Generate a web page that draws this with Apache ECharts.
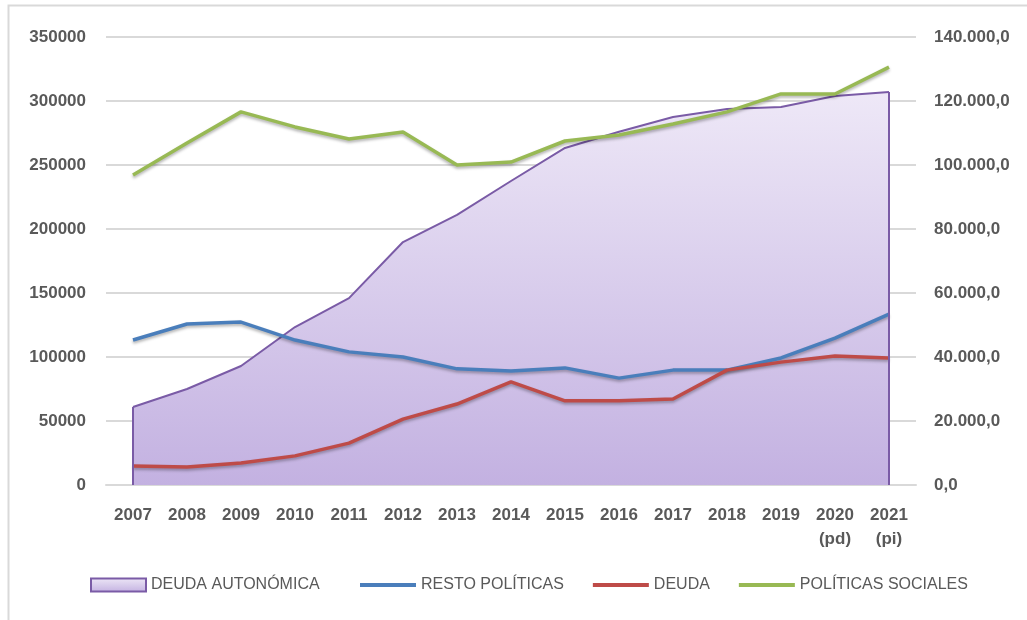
<!DOCTYPE html>
<html>
<head>
<meta charset="utf-8">
<script src="https://cdn.jsdelivr.net/npm/echarts@6/dist/echarts.min.js"></script>
<style>
html, body { margin: 0; padding: 0; background: #fff; }
#chart { width: 1027px; height: 620px; }
</style>
</head>
<body>
<div id="chart"></div>
<script>
// años (categorias del eje x)
var years = ['2007', '2008', '2009', '2010', '2011', '2012', '2013', '2014', '2015', '2016', '2017', '2018', '2019', '2020\n(pd)', '2021\n(pi)'];

// eje izquierdo
var deudaAutonomica = [60900, 75000, 93000, 123400, 146000, 189800, 211000, 237500, 263300, 276000, 287500, 293700, 295300, 303900, 307000];
// eje derecho
var restoPoliticas = [45300, 50300, 50900, 45300, 41600, 40000, 36300, 35600, 36600, 33400, 35900, 35900, 39700, 45900, 53400];
var deuda = [5900, 5600, 6900, 9100, 13100, 20600, 25300, 32200, 26300, 26300, 26900, 35900, 38400, 40300, 39700];
var politicasSociales = [96900, 106900, 116600, 111900, 108100, 110300, 100000, 100900, 107500, 109400, 112800, 116600, 122200, 122200, 130600];

var leftTicks = { min: 0, max: 350000, interval: 50000 };
var rightTicks = { min: 0, max: 140000, interval: 20000 };

var names = ['DEUDA AUTONÓMICA', 'RESTO POLÍTICAS', 'DEUDA', 'POLÍTICAS SOCIALES'];

var myChart = echarts.init(document.getElementById('chart'));

var labelStyle = {
	color: '#595959',
	fontFamily: 'Liberation Sans',
	fontWeight: 'bold',
	fontSize: 17
};

//formato 140.000,0
function fmtRight(v) {
	var s = String(Math.round(v));
	s = s.replace(/\B(?=(\d{3})+(?!\d))/g, '.');
	return s + ',0';
}

function lineSerie(name, data, color) {
	return {
		name: name,
		type: 'line',
		yAxisIndex: 1,
		data: data,
		showSymbol: false,
		symbol: 'none',
		lineStyle: {
			color: color,
			width: 3.5,
			shadowColor: 'rgba(0,0,0,0.3)',
			shadowBlur: 3,
			shadowOffsetY: 2
		},
		itemStyle: { color: color }
	};
}

var purpleFill = new echarts.graphic.LinearGradient(0, 0, 0, 1, [
	{ offset: 0, color: '#eee8f7' },
	{ offset: 1, color: '#c3b1e1' }
]);

var legendText = { color: '#595959', fontFamily: 'Liberation Sans', fontSize: 16 };

var option = {
	animation: false,
	grid: {
		left: 106,
		right: 111,
		top: 37,
		bottom: 135
	},
	graphic: [{
		type: 'rect',
		shape: { x: 8.5, y: 5.5, width: 1040, height: 640 },
		style: { fill: 'none', stroke: '#d9d9d9', lineWidth: 2 },
		silent: true
	}],
	legend: [{
		data: [{
			name: names[0],
			icon: 'rect',
			itemStyle: { color: purpleFill, borderColor: '#7a5ba6', borderWidth: 2 }
		}],
		left: 90,
		top: 577,
		padding: 0,
		itemWidth: 55,
		itemHeight: 13,
		itemGap: 6,
		textStyle: legendText
	}, {
		data: [names[1], names[2], names[3]],
		icon: 'rect',
		left: 360,
		top: 577,
		padding: 0,
		itemWidth: 56,
		itemHeight: 4,
		itemGap: 29,
		textStyle: legendText
	}],
	xAxis: {
		type: 'category',
		data: years,
		boundaryGap: true,
		axisLine: { lineStyle: { color: '#d9d9d9', width: 2 } },
		axisTick: { show: false },
		axisLabel: Object.assign({ margin: 18, lineHeight: 24, interval: 0 }, labelStyle)
	},
	yAxis: [{
		type: 'value',
		min: leftTicks.min,
		max: leftTicks.max,
		interval: leftTicks.interval,
		axisLine: { show: false },
		axisTick: { show: false },
		splitLine: { lineStyle: { color: '#d9d9d9', width: 2 } },
		axisLabel: Object.assign({ margin: 20, formatter: function (v) { return String(v); } }, labelStyle)
	}, {
		type: 'value',
		min: rightTicks.min,
		max: rightTicks.max,
		interval: rightTicks.interval,
		axisLine: { show: false },
		axisTick: { show: false },
		splitLine: { show: false },
		axisLabel: Object.assign({ margin: 18, formatter: fmtRight }, labelStyle)
	}],
	series: [{
		name: names[0],
		type: 'line',
		yAxisIndex: 0,
		data: deudaAutonomica,
		showSymbol: false,
		symbol: 'none',
		lineStyle: { color: '#7a5ba6', width: 2 },
		itemStyle: { color: '#7a5ba6' },
		areaStyle: { color: purpleFill, opacity: 1 },
		//bordes verticales del area
		markLine: {
			silent: true,
			symbol: 'none',
			label: { show: false },
			lineStyle: { color: '#7a5ba6', width: 2, type: 'solid' },
			data: [
				[{ coord: [years[0], 0] }, { coord: [years[0], deudaAutonomica[0]] }],
				[{ coord: [years[years.length - 1], 0] }, { coord: [years[years.length - 1], deudaAutonomica[deudaAutonomica.length - 1]] }]
			]
		}
	},
		lineSerie(names[1], restoPoliticas, '#4a7ebb'),
		lineSerie(names[2], deuda, '#be4b48'),
		lineSerie(names[3], politicasSociales, '#98b954')
	]
};

myChart.setOption(option);
</script>
</body>
</html>
